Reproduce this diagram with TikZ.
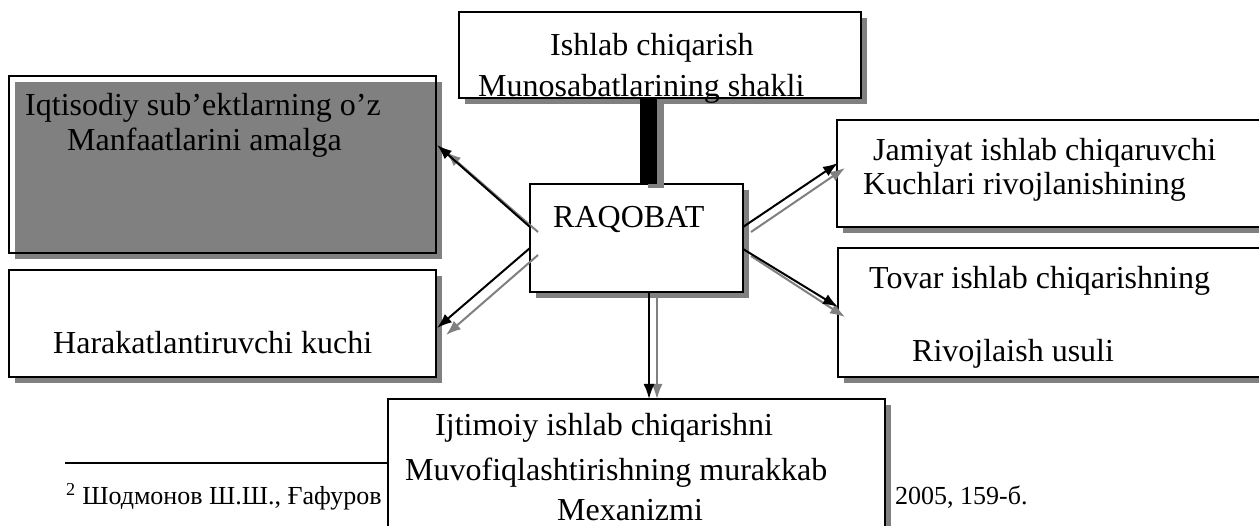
\documentclass[tikz,border=0pt]{standalone}
\usepackage{fontspec}
\setmainfont{Liberation Serif}
\usetikzlibrary{arrows.meta,shadows}
\definecolor{shd}{RGB}{128,128,128}
\tikzset{
  box/.style={draw=black,line width=1.6pt,inner sep=0pt,outer sep=0pt,
    drop shadow={shadow xshift=6pt,shadow yshift=-6pt,fill=shd,opacity=1}},
  wbox/.style={box,fill=white},
  txt/.style={inner sep=0pt,anchor=west,font=\fontsize{32}{38}\selectfont},
  fn/.style={inner sep=0pt,anchor=west,font=\fontsize{26}{30}\selectfont},
  blk/.style={draw=black,line width=2pt,-{Latex[length=15pt,width=11pt]}},
  gry/.style={draw=shd,line width=2pt,-{Latex[length=15pt,width=11pt]}},
}
\begin{document}
\begin{tikzpicture}[x=1pt,y=-1pt]
\useasboundingbox (0,0) rectangle (1259,526);
\clip (0,0) rectangle (1259,526);
\fill[white] (0,0) rectangle (1259,526);
% footnote (behind the bottom box)
\coordinate (fnA) at (65,463);
\coordinate (fnB) at (390,463);
\draw[line width=1.8pt] (fnA) -- (fnB);
\node[fn] (fnL) at (66,497) {\textsuperscript{2} Шодмонов Ш.Ш., Ғафуров};
\node[fn] (fnR) at (895,497) {2005, 159-б.};
% boxes
\node[wbox,minimum width=402pt,minimum height=86pt] (top) at (660,55) {};
\node[box,minimum width=427pt,minimum height=177pt] (lt) at (222.5,164.5) {};
\node[wbox,minimum width=427pt,minimum height=107pt] (lb) at (222.5,323.5) {};
\node[wbox,minimum width=213pt,minimum height=108pt] (raq) at (636.5,238) {};
\node[wbox,minimum width=433pt,minimum height=107pt] (rt) at (1053.5,173.5) {};
\node[wbox,minimum width=432pt,minimum height=129pt] (rb) at (1054,312.5) {};
\node[wbox,minimum width=497pt,minimum height=141pt] (bot) at (636.5,469.5) {};
% thick bar
\coordinate (barT) at (648.5,98);
\coordinate (barB) at (648.5,184);
\coordinate (barTs) at (656,103);
\coordinate (barBs) at (656,188);
\draw[shd,line width=16pt] (barTs) -- (barBs);
\draw[black,line width=17pt] (barT) -- (barB);
% texts
\node[txt] (t1) at (550,48) {Ishlab chiqarish};
\node[txt] (t2) at (478,89) {Munosabatlarining shakli};
\node[txt] (t3) at (25,108) {Iqtisodiy sub’ektlarning o’z};
\node[txt] (t4) at (67,143) {Manfaatlarini amalga};
\node[txt] (t5) at (53,343) {Harakatlantiruvchi kuchi};
\node[txt] (t6) at (553,220) {RAQOBAT};
\node[txt] (t7) at (873,153) {Jamiyat ishlab chiqaruvchi};
\node[txt] (t8) at (863,187) {Kuchlari rivojlanishining};
\node[txt] (t9) at (869,281) {Tovar ishlab chiqarishning};
\node[txt] (t10) at (912,354) {Rivojlaish usuli};
\node[txt] (t11) at (435,428) {Ijtimoiy ishlab chiqarishni};
\node[txt] (t12) at (405,473) {Muvofiqlashtirishning murakkab};
\node[txt] (t13) at (557,510) {Mexanizmi};
% arrow coordinates
\coordinate (a1s) at (530,227); \coordinate (a1e) at (437,145);
\coordinate (g1s) at (538,232); \coordinate (g1e) at (446,152);
\coordinate (a2s) at (530,248); \coordinate (a2e) at (437,328);
\coordinate (g2s) at (538,255); \coordinate (g2e) at (446,335);
\coordinate (a3s) at (743,227); \coordinate (a3e) at (838,163);
\coordinate (g3s) at (751,232); \coordinate (g3e) at (845,168);
\coordinate (a4s) at (743,249); \coordinate (a4e) at (838,307);
\coordinate (g4s) at (751,256); \coordinate (g4e) at (845,317);
\coordinate (a5s) at (649,292); \coordinate (a5e) at (649,399);
\coordinate (g5s) at (657,297); \coordinate (g5e) at (657,399);
\draw[gry] (g1s) -- (g1e);
\draw[blk] (a1s) -- (a1e);
\draw[gry] (g2s) -- (g2e);
\draw[blk] (a2s) -- (a2e);
\draw[gry] (g3s) -- (g3e);
\draw[blk] (a3s) -- (a3e);
\draw[gry] (g4s) -- (g4e);
\draw[blk] (a4s) -- (a4e);
\draw[gry] (g5s) -- (g5e);
\draw[blk] (a5s) -- (a5e);
\end{tikzpicture}
\end{document}
